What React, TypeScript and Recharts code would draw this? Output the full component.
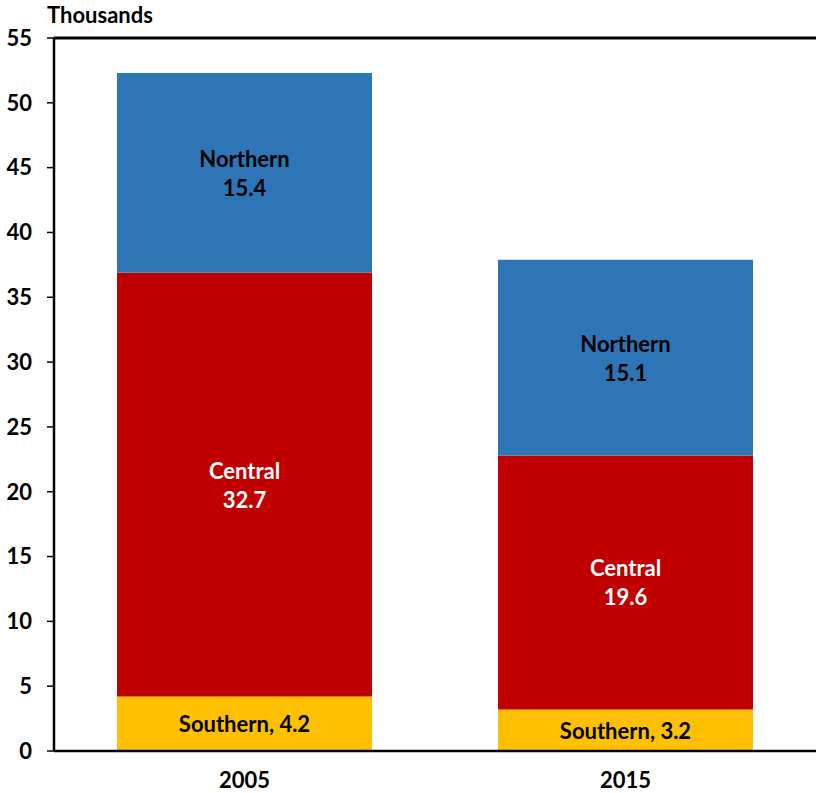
import { BarChart, Bar, XAxis, YAxis, LabelList, ReferenceLine } from 'recharts';

const years = ['2005', '2015'];
const southern = [4.2, 3.2];
const central = [32.7, 19.6];
const northern = [15.4, 15.1];
const yTicks = [0, 5, 10, 15, 20, 25, 30, 35, 40, 45, 50, 55];

const FONT = 'Lato, "Open Sans", sans-serif';
const FS = 22;

const data = years.map((year, i) => ({
  year,
  southern: southern[i],
  central: central[i],
  northern: northern[i],
}));

function stackedLabel(name: string, color: string, inline: boolean) {
  return (props: any) => {
    const { x, y, width, height, value } = props;
    const cx = x + width / 2;
    const cy = y + height / 2;
    if (inline) {
      return (
        <text x={cx} y={cy} textAnchor="middle" dominantBaseline="central"
          fill={color} fontFamily={FONT} fontWeight="bold" fontSize={FS}>
          {`${name}, ${value}`}
        </text>
      );
    }
    return (
      <g>
        <text x={cx} y={cy - 14.5} textAnchor="middle" dominantBaseline="central"
          fill={color} fontFamily={FONT} fontWeight="bold" fontSize={FS}>
          {name}
        </text>
        <text x={cx} y={cy + 14.5} textAnchor="middle" dominantBaseline="central"
          fill={color} fontFamily={FONT} fontWeight="bold" fontSize={FS}>
          {value}
        </text>
      </g>
    );
  };
}

export default function App() {
  return (
    <div style={{ position: 'absolute', left: 0, top: 0, width: 817, height: 793, background: '#fff' }}>
      <div style={{
        position: 'absolute', left: 47, top: 1, fontFamily: FONT, fontWeight: 'bold',
        fontSize: FS, lineHeight: '28px', color: '#000',
      }}>
        Thousands
      </div>
      <BarChart width={817} height={793} data={data}
        margin={{ top: 38, right: 1, bottom: 0, left: 0 }} barSize={255}>
        <XAxis dataKey="year" height={42} tickLine={false} tickSize={0} tickMargin={21}
          axisLine={{ stroke: '#000', strokeWidth: 2.5 }}
          tick={{ fill: '#000', fontFamily: FONT, fontWeight: 'bold', fontSize: FS }} />
        <YAxis width={54} domain={[0, 55]} ticks={yTicks} interval={0}
          tickSize={7} tickMargin={15}
          axisLine={{ stroke: '#000', strokeWidth: 2.5 }}
          tickLine={{ stroke: '#000', strokeWidth: 1.5 }}
          tick={{ fill: '#000', fontFamily: FONT, fontWeight: 'bold', fontSize: FS }} />
        <ReferenceLine y={55} stroke="#000" strokeWidth={3} />
        <Bar dataKey="southern" stackId="a" fill="#FFC000" isAnimationActive={false}>
          <LabelList dataKey="southern" content={stackedLabel('Southern', '#000', true)} />
        </Bar>
        <Bar dataKey="central" stackId="a" fill="#C00000" isAnimationActive={false}>
          <LabelList dataKey="central" content={stackedLabel('Central', '#fff', false)} />
        </Bar>
        <Bar dataKey="northern" stackId="a" fill="#2E75B6" isAnimationActive={false}>
          <LabelList dataKey="northern" content={stackedLabel('Northern', '#000', false)} />
        </Bar>
      </BarChart>
    </div>
  );
}
